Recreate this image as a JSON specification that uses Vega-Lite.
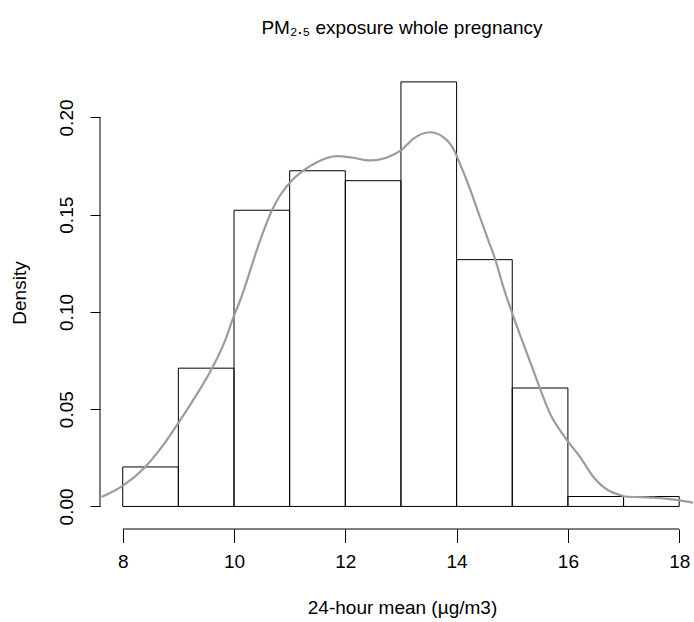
{
  "$schema": "https://vega.github.io/schema/vega-lite/v6.json",
  "width": 594,
  "height": 465,
  "autosize": {"type": "none"},
  "padding": {"left": 100, "top": 64, "right": 0, "bottom": 93},
  "background": "white",
  "config": {
    "view": {"stroke": null},
    "font": "Liberation Sans"
  },
  "title": {
    "text": "PM₂.₅ exposure whole pregnancy",
    "font": "Liberation Sans",
    "fontSize": 19,
    "fontWeight": "normal",
    "color": "black",
    "anchor": "middle",
    "frame": "group",
    "baseline": "alphabetic",
    "offset": 11,
    "dx": 5
  },
  "encoding": {
    "x": {
      "field": "x",
      "type": "quantitative",
      "scale": {"domain": [7.592, 18.266], "nice": false, "zero": false},
      "axis": {
        "values": [8, 10, 12, 14, 16, 18],
        "domain": false,
        "grid": false,
        "ticks": true,
        "tickSize": 13.5,
        "tickColor": "black",
        "tickWidth": 1,
        "labelFont": "Liberation Sans",
        "labelFontSize": 19,
        "labelColor": "black",
        "labelBaseline": "alphabetic",
        "labelPadding": 24.7,
        "labelFlush": false,
        "labelBound": false,
        "labelOverlap": false,
        "title": "24-hour mean (µg/m3)",
        "titleFont": "Liberation Sans",
        "titleFontSize": 19,
        "titleFontWeight": "normal",
        "titleColor": "black",
        "titleX": 302,
        "titleY": 84.5,
        "titleAlign": "center",
        "titleBaseline": "alphabetic"
      }
    },
    "y": {
      "field": "density",
      "type": "quantitative",
      "scale": {"domain": [-0.0116, 0.2275], "nice": false, "zero": false},
      "axis": {
        "values": [0, 0.05, 0.1, 0.15, 0.2],
        "format": ".2f",
        "domain": false,
        "grid": false,
        "ticks": true,
        "tickSize": 10,
        "tickColor": "black",
        "tickWidth": 1,
        "labelFont": "Liberation Sans",
        "labelFontSize": 19,
        "labelColor": "black",
        "labelAngle": 270,
        "labelAlign": "center",
        "labelBaseline": "alphabetic",
        "labelPadding": 18,
        "labelFlush": false,
        "labelBound": false,
        "labelOverlap": false,
        "title": "Density",
        "titleFont": "Liberation Sans",
        "titleFontSize": 19,
        "titleFontWeight": "normal",
        "titleColor": "black",
        "titleAngle": 270,
        "titleX": -75,
        "titleY": 228.5,
        "titleAlign": "center",
        "titleBaseline": "alphabetic"
      }
    }
  },
  "layer": [
    {
      "data": {
        "values": [
          {"x": 8, "x_end": 9, "density": 0.0203},
          {"x": 9, "x_end": 10, "density": 0.0711},
          {"x": 10, "x_end": 11, "density": 0.1523},
          {"x": 11, "x_end": 12, "density": 0.1726},
          {"x": 12, "x_end": 13, "density": 0.1675},
          {"x": 13, "x_end": 14, "density": 0.2183},
          {"x": 14, "x_end": 15, "density": 0.1269},
          {"x": 15, "x_end": 16, "density": 0.0609},
          {"x": 16, "x_end": 17, "density": 0.0051},
          {"x": 17, "x_end": 18, "density": 0.0051}
        ]
      },
      "mark": {"type": "rect", "fill": "transparent", "stroke": "black", "strokeWidth": 1},
      "encoding": {
        "x2": {"field": "x_end"},
        "y2": {"datum": 0}
      }
    },
    {
      "data": {
        "values": [
          {"x": 7.62, "density": 0.0048},
          {"x": 8.01, "density": 0.0108},
          {"x": 8.40, "density": 0.0202},
          {"x": 8.70, "density": 0.0305},
          {"x": 9.03, "density": 0.0442},
          {"x": 9.30, "density": 0.0562},
          {"x": 9.60, "density": 0.0708},
          {"x": 9.84, "density": 0.0853},
          {"x": 9.99, "density": 0.0973},
          {"x": 10.11, "density": 0.1059},
          {"x": 10.47, "density": 0.1368},
          {"x": 10.68, "density": 0.1522},
          {"x": 10.83, "density": 0.1600},
          {"x": 11.01, "density": 0.1667},
          {"x": 11.25, "density": 0.1728},
          {"x": 11.49, "density": 0.1770},
          {"x": 11.85, "density": 0.1801},
          {"x": 12.14, "density": 0.1793},
          {"x": 12.44, "density": 0.1779},
          {"x": 12.74, "density": 0.1793},
          {"x": 13.01, "density": 0.1833},
          {"x": 13.22, "density": 0.1890},
          {"x": 13.52, "density": 0.1924},
          {"x": 13.76, "density": 0.1899},
          {"x": 13.94, "density": 0.1839},
          {"x": 14.06, "density": 0.1762},
          {"x": 14.24, "density": 0.1633},
          {"x": 14.42, "density": 0.1487},
          {"x": 14.57, "density": 0.1368},
          {"x": 14.69, "density": 0.1274},
          {"x": 14.84, "density": 0.1128},
          {"x": 15.01, "density": 0.0985},
          {"x": 15.20, "density": 0.0836},
          {"x": 15.38, "density": 0.0699},
          {"x": 15.50, "density": 0.0605},
          {"x": 15.68, "density": 0.0477},
          {"x": 15.86, "density": 0.0391},
          {"x": 16.01, "density": 0.0331},
          {"x": 16.22, "density": 0.0254},
          {"x": 16.46, "density": 0.0151},
          {"x": 16.73, "density": 0.0082},
          {"x": 16.90, "density": 0.0062},
          {"x": 17.03, "density": 0.0051},
          {"x": 17.53, "density": 0.0045},
          {"x": 18.01, "density": 0.0031},
          {"x": 18.25, "density": 0.0019}
        ]
      },
      "mark": {"type": "line", "color": "#9c9c9c", "strokeWidth": 2.2, "interpolate": "monotone", "clip": true},
      "encoding": {}
    },
    {
      "data": {"values": [{"x": 8, "x_end": 18, "density": -0.0116}]},
      "mark": {"type": "rule", "color": "black", "strokeWidth": 1},
      "encoding": {
        "x2": {"field": "x_end"}
      }
    },
    {
      "data": {"values": [{"x": 7.592, "density": 0, "density_end": 0.2}]},
      "mark": {"type": "rule", "color": "black", "strokeWidth": 1},
      "encoding": {
        "y2": {"field": "density_end"}
      }
    }
  ]
}
